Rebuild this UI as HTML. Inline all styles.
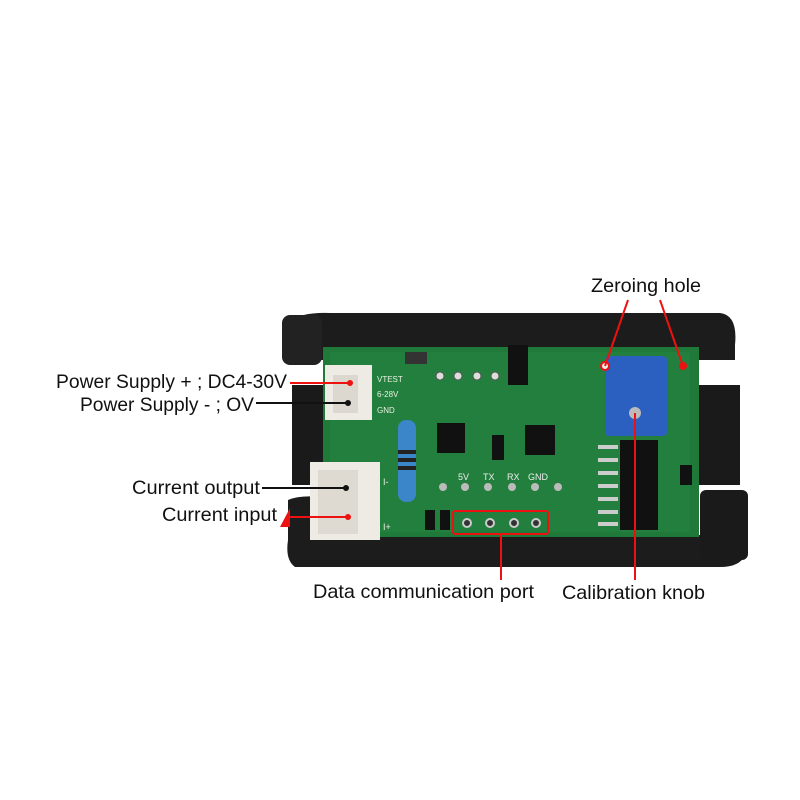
<!DOCTYPE html>
<html><head><style>
body{margin:0;background:#fff;width:800px;height:800px;overflow:hidden}
svg{display:block}
text{font-family:"Liberation Sans",sans-serif}
</style></head><body>
<svg width="800" height="800" viewBox="0 0 800 800">
<rect width="800" height="800" fill="#fff"/>
<!-- enclosure -->
<path d="M290 322 Q300 312 330 313 L720 313 Q738 315 735 345 L735 360 L290 360 Z" fill="#1c1c1c"/>
<rect x="282" y="315" width="40" height="50" rx="8" fill="#222"/>
<rect x="292" y="385" width="35" height="100" fill="#1a1a1a"/>
<rect x="690" y="385" width="50" height="100" fill="#1a1a1a"/>
<path d="M288 500 Q300 495 320 497 L320 535 L745 535 L745 555 Q740 567 720 567 L295 567 Q285 560 288 540 Z" fill="#1c1c1c"/>
<rect x="700" y="490" width="48" height="70" rx="6" fill="#1a1a1a"/>
<!-- PCB -->
<rect x="323" y="347" width="376" height="190" fill="#1f7a3a"/>
<rect x="330" y="352" width="360" height="180" fill="#237f3e"/>
<!-- connectors -->
<rect x="325" y="365" width="47" height="55" fill="#eeeae4"/>
<rect x="333" y="375" width="25" height="38" fill="#dcd8d0"/>
<rect x="310" y="462" width="70" height="78" fill="#eeeae4"/>
<rect x="318" y="470" width="40" height="64" fill="#dedad2"/>
<text x="377" y="382" font-size="8" fill="#e8f0e0">VTEST</text>
<text x="377" y="397" font-size="8" fill="#e8f0e0">6-28V</text>
<text x="377" y="413" font-size="8" fill="#e8f0e0">GND</text>
<text x="383" y="485" font-size="9" fill="#e8f0e0">I-</text>
<text x="383" y="530" font-size="9" fill="#e8f0e0">I+</text>
<!-- resistor -->
<rect x="398" y="420" width="18" height="82" rx="8" fill="#3a86c8"/>
<rect x="398" y="450" width="18" height="4" fill="#222"/><rect x="398" y="458" width="18" height="4" fill="#222"/><rect x="398" y="466" width="18" height="4" fill="#222"/>
<!-- header holes -->
<g fill="#ddd" stroke="#555"><circle cx="440" cy="376" r="4"/><circle cx="458" cy="376" r="4"/><circle cx="477" cy="376" r="4"/><circle cx="495" cy="376" r="4"/></g>
<rect x="508" y="345" width="20" height="40" fill="#111"/>
<rect x="405" y="352" width="22" height="12" fill="#333"/>
<!-- ICs -->
<rect x="437" y="423" width="28" height="30" fill="#111"/>
<rect x="525" y="425" width="30" height="30" fill="#111"/>
<rect x="492" y="435" width="12" height="25" fill="#111"/>
<text x="458" y="480" font-size="9" fill="#eee">5V</text>
<text x="483" y="480" font-size="9" fill="#eee">TX</text>
<text x="507" y="480" font-size="9" fill="#eee">RX</text>
<text x="528" y="480" font-size="9" fill="#eee">GND</text>
<g fill="#bbb"><circle cx="443" cy="487" r="4"/><circle cx="465" cy="487" r="4"/><circle cx="488" cy="487" r="4"/><circle cx="512" cy="487" r="4"/><circle cx="535" cy="487" r="4"/><circle cx="558" cy="487" r="4"/></g>
<!-- data port -->
<rect x="453" y="511" width="95" height="23" rx="2" fill="none" stroke="#e11" stroke-width="2"/>
<g fill="#333" stroke="#ccc" stroke-width="2"><circle cx="467" cy="523" r="4"/><circle cx="490" cy="523" r="4"/><circle cx="514" cy="523" r="4"/><circle cx="536" cy="523" r="4"/></g>
<rect x="425" y="510" width="10" height="20" fill="#111"/><rect x="440" y="510" width="10" height="20" fill="#111"/>
<!-- big chip -->
<rect x="620" y="440" width="38" height="90" fill="#111"/>
<g fill="#ccc"><rect x="598" y="445" width="20" height="4"/><rect x="598" y="458" width="20" height="4"/><rect x="598" y="471" width="20" height="4"/><rect x="598" y="484" width="20" height="4"/><rect x="598" y="497" width="20" height="4"/><rect x="598" y="510" width="20" height="4"/><rect x="598" y="522" width="20" height="4"/></g>
<rect x="680" y="465" width="12" height="20" fill="#111"/>
<!-- pot -->
<rect x="605" y="356" width="62" height="80" rx="4" fill="#2b5fc0"/>
<circle cx="635" cy="413" r="6" fill="#bbb"/>
<circle cx="605" cy="366" r="4" fill="#eee" stroke="#e11" stroke-width="2"/>
<circle cx="683" cy="366" r="4" fill="#e11"/>
<!-- leaders -->
<g stroke="#e11" stroke-width="2" fill="none">
<line x1="290" y1="383" x2="350" y2="383"/>
<line x1="288" y1="517" x2="348" y2="517"/>
<line x1="605" y1="366" x2="628" y2="300"/>
<line x1="683" y1="366" x2="660" y2="300"/>
<line x1="501" y1="535" x2="501" y2="580"/>
<line x1="635" y1="413" x2="635" y2="580"/>
</g>
<path d="M280 527 L290 508 L290 527 Z" fill="#e11"/>
<g stroke="#111" stroke-width="2"><line x1="256" y1="403" x2="348" y2="403"/><line x1="262" y1="488" x2="346" y2="488"/></g>
<circle cx="350" cy="383" r="3" fill="#e11"/><circle cx="348" cy="403" r="3" fill="#111"/>
<circle cx="346" cy="488" r="3" fill="#111"/><circle cx="348" cy="517" r="3" fill="#e11"/>
<g font-size="19.5" fill="#111">
<text x="56" y="388" textLength="231" lengthAdjust="spacingAndGlyphs">Power Supply + ; DC4-30V</text>
<text x="80" y="411" textLength="174" lengthAdjust="spacingAndGlyphs">Power Supply - ; OV</text>
<text x="132" y="494" textLength="128" lengthAdjust="spacingAndGlyphs">Current output</text>
<text x="162" y="521" textLength="115" lengthAdjust="spacingAndGlyphs">Current input</text>
<text x="591" y="292" textLength="110" lengthAdjust="spacingAndGlyphs">Zeroing hole</text>
<text x="313" y="598" textLength="221" lengthAdjust="spacingAndGlyphs">Data communication port</text>
<text x="562" y="599" textLength="143" lengthAdjust="spacingAndGlyphs">Calibration knob</text>
</g>
</svg>
</body></html>
